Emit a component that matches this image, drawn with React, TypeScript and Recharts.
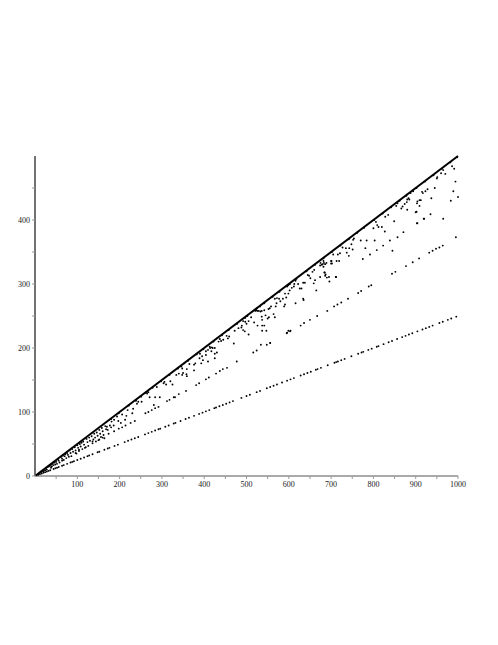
import { ScatterChart, Scatter, XAxis, YAxis, ReferenceLine } from "recharts";

// dots along the y = x/4 ray
const lowerBand: [number, number][] = [
  [4, 1], [8, 2], [12, 3], [16, 4], [20, 5], [24, 6], [28, 7], [32, 8], [36, 9], [44, 11], [48, 12], [52, 13],
  [56, 14], [64, 16], [68, 17], [76, 19], [84, 21], [88, 22], [92, 23], [100, 25], [108, 27], [116, 29], [124, 31],
  [128, 32], [136, 34], [148, 37], [152, 38], [164, 41], [172, 43], [176, 44], [188, 47], [196, 49], [212, 53],
  [220, 55], [228, 57], [236, 59], [244, 61], [260, 65], [268, 67], [276, 69], [284, 71], [292, 73], [296, 74],
  [308, 77], [316, 79], [328, 82], [332, 83], [344, 86], [356, 89], [364, 91], [376, 94], [388, 97], [396, 99],
  [404, 101], [412, 103], [424, 106], [428, 107], [436, 109], [444, 111], [452, 113], [460, 115], [468, 117],
  [488, 122], [500, 125], [508, 127], [524, 131], [532, 133], [548, 137], [556, 139], [564, 141], [572, 143],
  [584, 146], [596, 149], [604, 151], [612, 153], [628, 157], [636, 159], [644, 161], [652, 163], [664, 166],
  [668, 167], [676, 169], [692, 173], [708, 177], [712, 178], [716, 179], [724, 181], [732, 183], [748, 187],
  [764, 191], [772, 193], [776, 194], [788, 197], [796, 199], [808, 202], [812, 203], [824, 206], [836, 209],
  [844, 211], [856, 214], [868, 217], [876, 219], [884, 221], [892, 223], [904, 226], [916, 229], [924, 231],
  [932, 233], [940, 235], [956, 239], [964, 241], [976, 244], [984, 246], [996, 249],
];

// dots along the ~3x/8 ray
const middleBand: [number, number][] = [
  [24, 9], [40, 15], [48, 18], [64, 24], [80, 30], [96, 36], [104, 39], [120, 45], [136, 51], [152, 57], [160, 60],
  [174, 66], [187, 70], [198, 74], [206, 76], [214, 79], [226, 83], [236, 86], [261, 98], [268, 100], [276, 103],
  [284, 106], [292, 108], [312, 117], [328, 123], [340, 128], [357, 133], [381, 142], [388, 145], [404, 151],
  [411, 154], [428, 160], [437, 164], [444, 167], [454, 169], [516, 193], [524, 196], [534, 205], [556, 208],
  [595, 223], [603, 226], [628, 235], [636, 239], [650, 244], [667, 250], [691, 258], [707, 265], [715, 268],
  [724, 271], [740, 277], [764, 286], [771, 289], [789, 296], [795, 298], [844, 316], [852, 319], [877, 328],
  [893, 334], [908, 340], [932, 349], [940, 352], [948, 355], [956, 357], [964, 360], [995, 373],
];

// scattered dots between the 3x/8 ray and the diagonal
const upperScatter: [number, number][] = [
  [10, 4], [14, 6], [18, 8], [20, 7], [22, 10], [26, 12], [28, 10], [30, 14], [33, 15], [36, 16], [38, 13], [40, 18],
  [42, 20], [44, 17], [46, 21], [50, 22], [52, 19], [54, 26], [56, 24], [58, 21], [62, 30], [64, 27], [66, 32],
  [68, 25], [70, 31], [72, 34], [74, 28], [76, 36], [78, 33], [82, 40], [84, 36], [86, 31], [88, 42], [90, 38],
  [94, 45], [96, 40], [98, 35], [100, 48], [102, 44], [104, 41], [106, 50], [108, 46], [110, 52], [112, 42],
  [114, 54], [116, 49], [118, 44], [122, 58], [124, 53], [126, 47], [128, 60], [130, 55], [134, 62], [136, 54],
  [138, 57], [140, 66], [142, 60], [144, 54], [146, 68], [148, 63], [150, 56], [152, 72], [154, 66], [156, 61],
  [158, 75], [160, 70], [162, 64], [164, 59], [166, 78], [168, 73],
  [170, 77], [172, 72], [177, 79], [180, 76], [181, 85], [186, 79], [187, 88], [194, 93], [197, 86], [203, 83],
  [206, 96], [213, 88], [216, 94], [219, 103], [230, 98], [232, 105], [239, 118], [241, 113], [244, 116],
  [251, 124], [252, 116], [265, 129], [268, 131], [271, 123], [281, 111], [284, 123], [288, 139], [295, 123],
  [304, 145], [306, 147], [310, 143], [318, 119], [320, 148], [325, 143], [331, 123], [334, 158], [340, 160],
  [348, 158], [348, 168], [353, 176], [358, 159],
  [346, 171], [350, 161], [359, 156], [359, 167], [365, 175], [376, 165], [376, 174], [379, 176], [389, 184],
  [390, 191], [393, 176], [395, 187], [397, 181], [404, 189], [404, 195], [409, 179], [409, 197], [413, 202],
  [414, 200], [417, 195], [418, 201], [420, 200], [425, 191], [425, 184], [425, 200], [430, 193], [434, 210],
  [437, 214], [440, 211], [445, 213], [453, 219], [456, 215], [459, 218], [470, 207], [472, 227], [477, 179],
  [481, 231], [488, 232], [489, 235], [492, 228], [492, 242], [496, 226], [497, 241], [497, 247], [500, 238],
  [505, 221], [505, 242], [511, 248], [518, 240], [521, 258], [525, 262], [529, 258], [532, 265], [537, 235],
  [523, 259], [526, 235], [526, 258], [533, 257], [536, 249], [536, 258], [537, 227], [537, 244], [542, 235],
  [542, 259], [545, 251], [547, 227], [548, 205], [550, 246], [552, 261], [553, 248], [555, 262], [556, 208],
  [558, 265], [564, 253], [567, 248], [567, 277], [569, 265], [571, 270], [572, 278], [577, 277], [580, 273],
  [586, 277], [589, 265], [591, 268], [591, 285], [594, 279], [596, 224], [596, 296], [599, 227], [599, 285],
  [599, 298], [602, 290], [602, 300], [604, 227], [607, 294], [612, 296], [613, 300], [616, 270], [616, 305],
  [622, 300], [626, 293], [630, 293], [634, 277], [634, 302], [635, 275], [638, 302], [645, 314], [648, 313],
  [651, 309], [656, 319], [659, 301], [660, 322], [662, 306], [665, 290], [674, 311], [674, 329], [678, 330],
  [682, 327], [684, 318], [686, 331], [687, 315], [689, 333], [695, 311], [700, 332], [701, 336], [711, 311],
  [675, 333], [680, 331], [683, 333], [682, 336], [685, 318], [686, 313], [690, 310], [696, 304], [712, 311],
  [700, 336], [702, 332], [705, 346], [713, 336], [716, 346], [719, 336], [721, 348], [727, 357], [735, 356],
  [737, 349], [742, 344], [743, 356], [748, 362], [751, 354], [752, 369], [754, 371], [770, 368], [775, 339],
  [781, 356], [784, 368], [792, 346], [800, 387], [803, 368], [806, 397], [808, 353], [809, 392], [812, 389],
  [820, 389], [823, 360], [827, 382], [828, 405], [835, 408], [839, 368], [845, 352], [849, 398], [854, 422],
  [857, 373], [857, 426], [866, 418], [869, 421], [871, 381], [874, 425], [879, 428], [880, 416], [880, 432],
  [883, 434], [885, 432], [888, 442], [894, 445], [900, 412], [902, 413], [903, 426], [903, 395], [904, 395],
  [904, 429], [909, 422], [909, 431], [912, 431], [915, 444], [917, 442], [919, 402], [920, 402], [923, 445],
  [928, 448], [935, 409], [937, 434], [945, 450], [950, 465], [951, 467], [960, 473], [965, 402], [965, 478],
  [970, 472], [983, 430], [986, 484], [989, 445], [991, 480], [994, 460], [1000, 436],
];

// dots sitting just under the diagonal
const nearDiagonal: [number, number][] = [
  [180, 89], [198, 98], [222, 110], [238, 118], [262, 130], [278, 138], [298, 148], [318, 158], [338, 168],
  [362, 180], [382, 190], [398, 198], [422, 210], [442, 220], [458, 228], [478, 238], [502, 250], [522, 260],
  [542, 270], [562, 280], [578, 288], [602, 300], [618, 308], [642, 320], [662, 330], [682, 340], [702, 350],
  [722, 360], [742, 370], [762, 380], [778, 388], [802, 400], [822, 410], [842, 420], [862, 430], [878, 438],
  [902, 450], [922, 460], [942, 470], [962, 480], [982, 490], [998, 498],
];

const diagonal = [
  { x: 0, y: 0 },
  { x: 1000, y: 500 },
];

const xTicks = [50, 100, 150, 200, 250, 300, 350, 400, 450, 500, 550, 600, 650, 700, 750, 800, 850, 900, 950, 1000];
const yTicks = [0, 50, 100, 150, 200, 250, 300, 350, 400, 450];

const toPts = (a: [number, number][]) => a.map(([x, y]) => ({ x, y }));

const Dot = (props: any) => <circle cx={props.cx} cy={props.cy} r={0.95} fill="#000" />;

const tickStyle = { fontFamily: "Liberation Serif", fontSize: 8, fill: "#222" };
const onlyHundreds = (v: number) => (v % 100 === 0 ? String(v) : "");

export default function App() {
  return (
    <div style={{ position: "absolute", left: 0, top: 0, width: 498, height: 645, background: "#fff" }}>
      <ScatterChart width={498} height={645} margin={{ top: 156, right: 40, bottom: 139, left: 5 }}>
        <XAxis
          type="number"
          dataKey="x"
          domain={[0, 1000]}
          ticks={xTicks}
          tickFormatter={onlyHundreds}
          height={30}
          axisLine={{ stroke: "#aaa", strokeWidth: 2 }}
          tickLine={{ stroke: "#999" }}
          tickSize={3}
          tick={tickStyle}
          interval={0}
        />
        <YAxis
          type="number"
          dataKey="y"
          domain={[0, 500]}
          ticks={yTicks}
          tickFormatter={onlyHundreds}
          width={30}
          axisLine={{ stroke: "#444", strokeWidth: 1.5 }}
          tickLine={{ stroke: "#999" }}
          tickSize={3}
          tick={tickStyle}
          interval={0}
        />
        <ReferenceLine segment={diagonal} stroke="#000" strokeWidth={2} />
        <Scatter data={toPts(lowerBand)} shape={Dot} isAnimationActive={false} />
        <Scatter data={toPts(middleBand)} shape={Dot} isAnimationActive={false} />
        <Scatter data={toPts(upperScatter)} shape={Dot} isAnimationActive={false} />
        <Scatter data={toPts(nearDiagonal)} shape={Dot} isAnimationActive={false} />
      </ScatterChart>
    </div>
  );
}
